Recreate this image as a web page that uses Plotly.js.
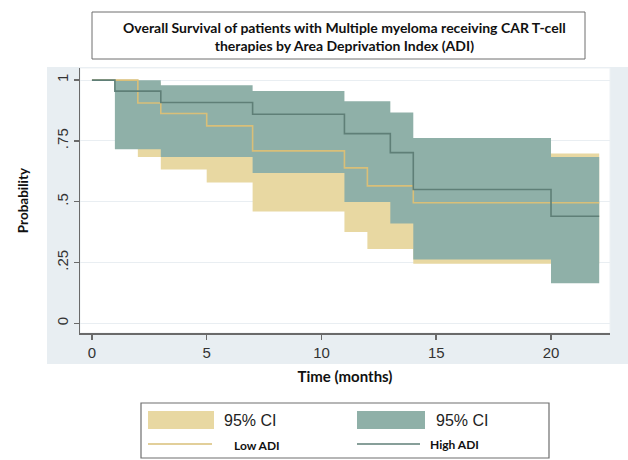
<!DOCTYPE html>
<html>
<head>
<meta charset="utf-8">
<script src="https://cdn.plot.ly/plotly-3.0.1.min.js"></script>
<style>html,body{margin:0;padding:0;background:#fff;}#chart{width:628px;height:460px;}</style>
</head>
<body>
<div id="chart"></div>
<script>
// Kaplan-Meier estimates
var lowTime  = [0, 2, 3, 5, 7, 11, 12, 14, 22.1];
var lowSurv  = [1, 0.906, 0.863, 0.812, 0.709, 0.639, 0.565, 0.496, 0.496];
var lowCiTime  = [2, 3, 5, 7, 11, 12, 14, 20, 22.1];
var lowCiLower = [0.684, 0.632, 0.579, 0.46, 0.375, 0.306, 0.245, 0.245, 0.245];
var lowCiUpper = [0.99, 0.97, 0.93, 0.87, 0.82, 0.76, 0.70, 0.698, 0.698];

var highTime = [0, 1, 3, 7, 11, 13, 14, 20, 22.1];
var highSurv = [1, 0.955, 0.908, 0.86, 0.78, 0.702, 0.55, 0.44, 0.44];
var highCiTime  = [1, 3, 7, 11, 13, 14, 20, 22.1];
var highCiLower = [0.716, 0.684, 0.618, 0.499, 0.41, 0.262, 0.165, 0.165];
var highCiUpper = [1.0, 0.979, 0.955, 0.913, 0.867, 0.762, 0.684, 0.684];

var xTicks = [0, 5, 10, 15, 20];
var yTicks = [0, 0.25, 0.5, 0.75, 1];
var yTickLabels = ["0", ".25", ".5", ".75", "1"];

var titleText = "Overall Survival of patients with Multiple myeloma receiving CAR T-cell<br>therapies by Area Deprivation Index (ADI)";
var ciLabel = "95% CI";
var lowLabel = "Low ADI";
var highLabel = "High ADI";

var cLowFill = "#e8d8a2", cHighFill = "#8fb0a8";
var cLowLine = "#d9bf78", cHighLine = "#5f7f77";

var traces = [
  {x: lowCiTime, y: lowCiLower, mode: "lines", line: {shape: "hv", width: 0, color: cLowFill}, hoverinfo: "skip"},
  {x: lowCiTime, y: lowCiUpper, mode: "lines", line: {shape: "hv", width: 0, color: cLowFill}, fill: "tonexty", fillcolor: cLowFill, name: ciLabel},
  {x: highCiTime, y: highCiLower, mode: "lines", line: {shape: "hv", width: 0, color: cHighFill}, hoverinfo: "skip"},
  {x: highCiTime, y: highCiUpper, mode: "lines", line: {shape: "hv", width: 0, color: cHighFill}, fill: "tonexty", fillcolor: cHighFill, name: ciLabel},
  {x: lowTime, y: lowSurv, mode: "lines", line: {shape: "hv", width: 1.6, color: cLowLine}, name: lowLabel},
  {x: highTime, y: highSurv, mode: "lines", line: {shape: "hv", width: 1.6, color: cHighLine}, name: highLabel}
];

// pixel -> paper helpers (plot area: x 80..610, y 68..333)
var L = 80, R = 610, T = 68, B = 333;
function px(x){ return (x - L) / (R - L); }
function py(y){ return (B - y) / (B - T); }

var shapes = [
  {type: "rect", xref: "paper", yref: "paper", x0: px(47), x1: px(628), y0: py(364), y1: py(67), fillcolor: "#e8eef2", line: {width: 0}, layer: "below"},
  {type: "rect", xref: "paper", yref: "paper", x0: 0, x1: 1, y0: 0, y1: 1, fillcolor: "#ffffff", line: {width: 1, color: "#edf1f4"}, layer: "below"},
  // title box
  {type: "rect", xref: "paper", yref: "paper", x0: px(92), x1: px(585), y0: py(59), y1: py(12), fillcolor: "rgba(0,0,0,0)", line: {width: 1, color: "#6e6e6e"}},
  // legend box
  {type: "rect", xref: "paper", yref: "paper", x0: px(141), x1: px(549), y0: py(458), y1: py(403), fillcolor: "#ffffff", line: {width: 1.2, color: "#6e6e6e"}},
  {type: "rect", xref: "paper", yref: "paper", x0: px(148), x1: px(214), y0: py(429), y1: py(411), fillcolor: cLowFill, line: {width: 0}},
  {type: "rect", xref: "paper", yref: "paper", x0: px(357), x1: px(425), y0: py(429), y1: py(411), fillcolor: cHighFill, line: {width: 0}},
  {type: "line", xref: "paper", yref: "paper", x0: px(148), x1: px(212), y0: py(444), y1: py(444), line: {width: 1.4, color: cLowLine}},
  {type: "line", xref: "paper", yref: "paper", x0: px(357), x1: px(420), y0: py(444), y1: py(444), line: {width: 1.4, color: cHighLine}}
];

var annotations = [
  {text: "<b>" + titleText + "</b>", xref: "paper", yref: "paper", x: px(344), y: py(36), xanchor: "center", yanchor: "middle", showarrow: false, align: "center", font: {family: "Lato, sans-serif", size: 14, color: "#111"}},
  {text: ciLabel, xref: "paper", yref: "paper", x: px(222), y: py(420), xanchor: "left", yanchor: "middle", showarrow: false, font: {family: "Liberation Sans, Arial, sans-serif", size: 16, color: "#222"}},
  {text: ciLabel, xref: "paper", yref: "paper", x: px(434), y: py(420), xanchor: "left", yanchor: "middle", showarrow: false, font: {family: "Liberation Sans, Arial, sans-serif", size: 16, color: "#222"}},
  {text: "<b>" + lowLabel + "</b>", xref: "paper", yref: "paper", x: px(232), y: py(445), xanchor: "left", yanchor: "middle", showarrow: false, font: {family: "Lato, sans-serif", size: 12, color: "#111"}},
  {text: "<b>" + highLabel + "</b>", xref: "paper", yref: "paper", x: px(428), y: py(444), xanchor: "left", yanchor: "middle", showarrow: false, font: {family: "Lato, sans-serif", size: 12, color: "#111"}}
];

var layout = {
  width: 628, height: 460,
  margin: {l: L, r: 628 - R, t: T, b: 460 - B, pad: 0},
  paper_bgcolor: "#ffffff",
  plot_bgcolor: "rgba(0,0,0,0)",
  showlegend: false,
  xaxis: {
    range: [-0.52, 22.57], tickvals: xTicks, ticktext: xTicks.map(String),
    showgrid: false, zeroline: false, showline: true, linecolor: "#6a6a6a", linewidth: 1.5,
    ticks: "outside", ticklen: 5, tickcolor: "#6a6a6a", tickwidth: 1.5,
    tickfont: {family: "Liberation Sans, Arial, sans-serif", size: 15, color: "#333"},
    title: {text: "<b>Time (months)</b>", font: {family: "Lato, sans-serif", size: 15, color: "#111"}, standoff: 12}
  },
  yaxis: {
    range: [-0.04, 1.05], tickvals: yTicks, ticktext: yTickLabels, tickangle: -90,
    showgrid: true, gridcolor: "#e9eef2", gridwidth: 1, zeroline: false,
    showline: true, linecolor: "#6a6a6a", linewidth: 1.5,
    ticks: "outside", ticklen: 5, tickcolor: "#6a6a6a", tickwidth: 1.5,
    tickfont: {family: "Liberation Sans, Arial, sans-serif", size: 15, color: "#333"},
    title: {text: "<b>Probability</b>", font: {family: "Lato, sans-serif", size: 13.5, color: "#111"}, standoff: 22}
  },
  shapes: shapes,
  annotations: annotations
};

Plotly.newPlot("chart", traces, layout, {displayModeBar: false, staticPlot: true});
</script>
</body>
</html>
